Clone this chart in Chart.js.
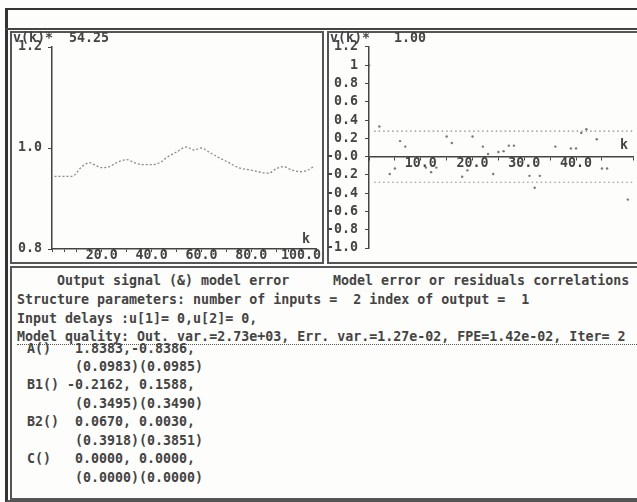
<!DOCTYPE html>
<html>
<head>
<meta charset="utf-8">
<script src="https://cdn.jsdelivr.net/npm/chart.js"></script>
<style>
  body { margin: 0; background: #fff; }
  #screen { position: relative; width: 637px; height: 502px; background: #fdfdfb; overflow: hidden;
            font-family: "DejaVu Sans Mono", monospace; font-size: 13.3px; font-weight: bold; color: #444; }
  #screen div { position: absolute; box-sizing: border-box; white-space: pre; line-height: 14px; }
  canvas { position: absolute; }
  .panel { border: 2px solid #555; }
</style>
</head>
<body>
<div id="screen">
  <div style="left:5px;top:8px;width:640px;height:494px;border-left:3px solid #333;border-top:2px solid #333;border-bottom:2px solid #555;"></div>
  <div style="left:5px;top:28px;width:640px;height:2px;background:#444;"></div>
  <div class="panel" style="left:10px;top:31px;width:314px;height:233px;"></div>
  <div class="panel" style="left:327px;top:31px;width:320px;height:233px;"></div>
  <div class="panel" style="left:10px;top:266px;width:640px;height:234px;"></div>

  <canvas id="outChart" width="311" height="231" style="left:11px;top:32px;"></canvas>
  <canvas id="corChart" width="309" height="231" style="left:328px;top:32px;"></canvas>

  <div style="left:13px;top:31px;">v(k)*  54.25</div>
  <div style="left:330px;top:31px;">v(k)*   1.00</div>
  <div style="left:302px;top:232px;">k</div>
  <div style="left:620px;top:138px;">k</div>

  <div style="left:57px;top:274px;">Output signal (&amp;) model error</div>
  <div style="left:333px;top:274px;">Model error or residuals correlations</div>
  <div style="left:17px;top:293px;">Structure parameters: number of inputs =  2 index of output =  1</div>
  <div style="left:17px;top:312px;">Input delays :u[1]= 0,u[2]= 0,</div>
  <div style="left:17px;top:330px;">Model quality: Out. var.=2.73e+03, Err. var.=1.27e-02, FPE=1.42e-02, Iter= 2</div>
  <div style="left:17px;top:344px;width:620px;height:1px;border-top:1px dotted #555;"></div>
  <div style="left:27px;top:342px;">A()   1.8383,-0.8386,</div>
  <div style="left:27px;top:360px;">      (0.0983)(0.0985)</div>
  <div style="left:27px;top:378px;">B1() -0.2162, 0.1588,</div>
  <div style="left:27px;top:397px;">      (0.3495)(0.3490)</div>
  <div style="left:27px;top:415px;">B2()  0.0670, 0.0030,</div>
  <div style="left:27px;top:434px;">      (0.3918)(0.3851)</div>
  <div style="left:27px;top:452px;">C()   0.0000, 0.0000,</div>
  <div style="left:27px;top:471px;">      (0.0000)(0.0000)</div>
</div>

<script>
// output signal (normalised) vs k
const outK = [1, 8, 12, 15, 17, 20, 23, 26, 30, 33, 36, 40, 44, 46, 50, 54, 57, 60, 63, 67, 71, 75, 79, 83, 87, 90, 93, 96, 100, 103, 105];
const outV = [0.944, 0.944, 0.963, 0.971, 0.967, 0.961, 0.963, 0.971, 0.977, 0.971, 0.967, 0.967, 0.973, 0.981, 0.992, 1.002, 0.996, 1.0, 0.992, 0.981, 0.971, 0.961, 0.957, 0.953, 0.950, 0.959, 0.963, 0.957, 0.953, 0.957, 0.963];
const outYLabels = ['0.8', '1.0', '1.2'];
const outXLabels = { 20: '20.0', 40: '40.0', 60: '60.0', 80: '80.0', 100: '100.0' };

// residual correlations vs lag
const lagK = [0, 2, 4, 5, 6, 7, 11, 12, 13, 15, 16, 18, 19, 20, 22, 23, 24, 25, 26, 27, 28, 31, 32, 33, 36, 39, 40, 41, 42, 44, 45, 46, 50];
const corrV = [1.0, 0.33, -0.19, -0.13, 0.17, 0.11, -0.12, -0.17, -0.12, 0.22, 0.15, -0.22, -0.15, 0.22, 0.11, 0.03, -0.19, 0.05, 0.06, 0.12, 0.12, -0.21, -0.34, -0.21, 0.11, 0.09, 0.09, 0.26, 0.30, 0.19, -0.13, -0.13, -0.47];
const confBound = 0.28;
const bandK = [1, 51];
const corYLabels = ['-1.0', '-0.8', '-0.6', '-0.4', '-0.2', '-0.0', '0.2', '0.4', '0.6', '0.8', '1', '1.2'];
const corXLabels = { 10: '10.0', 20: '20.0', 30: '30.0', 40: '40.0' };

const ink = '#444';
const axisCol = '#444';
const monoFont = { family: 'DejaVu Sans Mono', size: 13.3, weight: 'bold' };

new Chart(document.querySelector('#outChart'), {
    type: 'line',
    data: {
        datasets: [{
            data: outK.map((k, i) => ({ x: k, y: outV[i] })),
            borderColor: '#8a8a8a',
            borderWidth: 1.3,
            borderDash: [2, 2],
            pointRadius: 0,
            cubicInterpolationMode: 'monotone'
        }]
    },
    options: {
        responsive: false,
        animation: false,
        layout: { padding: { top: 15, right: 6, left: 0, bottom: 0 } },
        plugins: { legend: { display: false }, tooltip: { enabled: false } },
        scales: {
            x: {
                type: 'linear', min: 0, max: 106,
                afterFit: s => { s.height = 12; },
                border: { color: axisCol, width: 1.5 },
                grid: { drawOnChartArea: false, tickLength: 3, color: axisCol },
                ticks: {
                    stepSize: 5, autoSkip: false, maxRotation: 0, padding: -4,
                    color: ink, font: monoFont,
                    callback: v => outXLabels[v] || ''
                }
            },
            y: {
                min: 0.8, max: 1.2,
                afterFit: s => { s.width = 41; },
                border: { color: axisCol, width: 1.5 },
                grid: { drawOnChartArea: false, tickLength: 4, color: axisCol },
                ticks: {
                    stepSize: 0.2, autoSkip: false, padding: 6, color: ink, font: monoFont,
                    callback: (v, i) => outYLabels[i]
                }
            }
        }
    }
});

new Chart(document.querySelector('#corChart'), {
    type: 'scatter',
    data: {
        datasets: [{
            data: lagK.map((k, i) => ({ x: k, y: corrV[i] })),
            backgroundColor: '#777',
            borderWidth: 0,
            pointRadius: 1.2
        }, {
            type: 'line',
            data: bandK.map(k => ({ x: k, y: confBound })),
            borderColor: '#888', borderWidth: 1.2, borderDash: [1.5, 3], pointRadius: 0
        }, {
            type: 'line',
            data: bandK.map(k => ({ x: k, y: -confBound })),
            borderColor: '#888', borderWidth: 1.2, borderDash: [1.5, 3], pointRadius: 0
        }]
    },
    options: {
        responsive: false,
        animation: false,
        layout: { padding: { top: 13, right: 2, left: 0, bottom: 13 } },
        plugins: { legend: { display: false }, tooltip: { enabled: false } },
        scales: {
            x: {
                type: 'linear', min: 0, max: 51,
                position: { y: 0 },
                border: { color: axisCol, width: 1.5 },
                grid: { drawOnChartArea: false, tickLength: 3, color: axisCol },
                ticks: {
                    stepSize: 5, autoSkip: false, maxRotation: 0, padding: -4,
                    color: ink, font: monoFont,
                    callback: v => corXLabels[v] || ''
                }
            },
            y: {
                min: -1.0, max: 1.2,
                afterFit: s => { s.width = 41; },
                border: { color: axisCol, width: 1.5 },
                grid: { drawOnChartArea: false, tickLength: 4, color: axisCol },
                ticks: {
                    stepSize: 0.2, autoSkip: false, padding: 7, color: ink, font: monoFont,
                    callback: (v, i) => corYLabels[i]
                }
            }
        }
    }
});
</script>
</body>
</html>
